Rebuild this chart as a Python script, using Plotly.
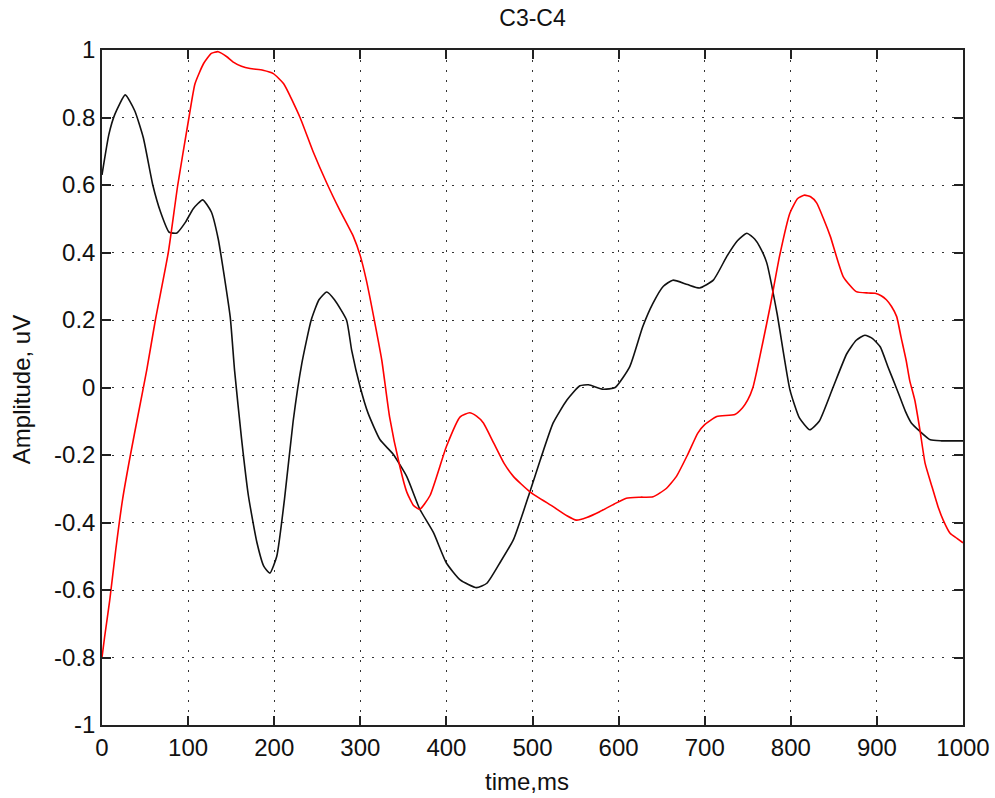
import plotly.graph_objects as go

# ---- data ----
t_black = [0, 8, 15, 27, 38, 48, 59, 68, 78, 87, 97, 106, 117, 127, 135, 142, 149, 154, 162, 170,
           180, 188, 195, 203, 212, 222, 232, 243, 252, 261, 270, 284, 290, 300, 309, 323, 338, 354,
           369, 385, 400, 416, 435, 447, 462, 478, 497, 509, 524, 540, 555, 565, 582, 596, 613, 628,
           640, 652, 663, 680, 694, 710, 726, 738, 749, 758, 764, 772, 784, 799, 810, 822, 833, 849,
           865, 876, 886, 895, 904, 913, 919, 925, 933, 940, 950, 962, 975, 1000]
v_black = [0.63, 0.75, 0.81, 0.867, 0.82, 0.74, 0.60, 0.52, 0.46, 0.458, 0.49, 0.53, 0.556, 0.52,
           0.44, 0.33, 0.207, 0.05, -0.15, -0.32, -0.46, -0.53, -0.55, -0.50, -0.33, -0.10, 0.07,
           0.20, 0.26, 0.283, 0.26, 0.20, 0.11, 0.0, -0.076, -0.155, -0.197, -0.264, -0.36, -0.43,
           -0.52, -0.57, -0.593, -0.58, -0.52, -0.45, -0.309, -0.215, -0.105, -0.037, 0.005, 0.008,
           -0.005, 0.0, 0.062, 0.18, 0.25, 0.30, 0.318, 0.305, 0.295, 0.318, 0.39, 0.435, 0.457,
           0.44, 0.417, 0.37, 0.22, -0.007, -0.09, -0.125, -0.10, 0.0, 0.10, 0.14, 0.155, 0.145,
           0.12, 0.06, 0.022, -0.017, -0.07, -0.105, -0.13, -0.155, -0.158, -0.158]

t_red = [0, 3, 9, 16, 24, 33, 42, 52, 62, 77, 88, 101, 108, 118, 127, 135, 145, 152, 162, 172,
         187, 199, 211, 230, 245, 261, 276, 292, 300, 307, 317, 325, 334, 346, 354, 362, 369, 381,
         400, 416, 427, 435, 443, 455, 467, 478, 497, 524, 540, 551, 563, 578, 595, 609, 625, 640,
         655, 667, 680, 692, 700, 714, 735, 744, 750, 756, 760, 768, 776, 787, 799, 808, 816, 823,
         830, 838, 846, 861, 876, 890, 898, 905, 911, 917, 923, 928, 934, 938, 944, 950, 956, 964,
         971, 977, 985, 993, 1000]
v_red = [-0.80, -0.74, -0.63, -0.48, -0.33, -0.20, -0.08, 0.052, 0.20, 0.40, 0.60, 0.80, 0.90,
         0.96, 0.99, 0.995, 0.98, 0.965, 0.952, 0.945, 0.94, 0.93, 0.90, 0.80, 0.70, 0.606, 0.526,
         0.447, 0.39, 0.318, 0.19, 0.08, -0.087, -0.235, -0.31, -0.35, -0.361, -0.32, -0.175,
         -0.087, -0.075, -0.085, -0.105, -0.165, -0.225, -0.264, -0.309, -0.353, -0.38, -0.393,
         -0.385, -0.368, -0.345, -0.328, -0.325, -0.324, -0.30, -0.264, -0.20, -0.135, -0.11,
         -0.086, -0.08, -0.06, -0.037, 0.0, 0.043, 0.14, 0.24, 0.39, 0.517, 0.56, 0.57, 0.565,
         0.547, 0.50, 0.447, 0.328, 0.284, 0.28, 0.279, 0.272, 0.26, 0.24, 0.21, 0.15, 0.08, 0.022,
         -0.037, -0.126, -0.225, -0.294, -0.353, -0.393, -0.432, -0.447, -0.46]

x_ticks = [0, 100, 200, 300, 400, 500, 600, 700, 800, 900, 1000]
x_labels = ["0", "100", "200", "300", "400", "500", "600", "700", "800", "900", "1000"]
y_ticks = [-1, -0.8, -0.6, -0.4, -0.2, 0, 0.2, 0.4, 0.6, 0.8, 1]
y_labels = ["-1", "-0.8", "-0.6", "-0.4", "-0.2", "0", "0.2", "0.4", "0.6", "0.8", "1"]

FONT = "Liberation Sans, Arial, sans-serif"
AX = "#222222"

fig = go.Figure()
fig.add_trace(go.Scatter(x=t_black, y=v_black, mode="lines",
                         line=dict(color="#111111", width=1.6, shape="spline", smoothing=0.5),
                         showlegend=False))
fig.add_trace(go.Scatter(x=t_red, y=v_red, mode="lines",
                         line=dict(color="#ff0000", width=1.6, shape="spline", smoothing=0.5),
                         showlegend=False))

axis_common = dict(showline=True, linecolor=AX, linewidth=1.5, mirror="ticks",
                   ticks="inside", ticklen=9, tickwidth=1.5, tickcolor=AX,
                   showgrid=True, gridcolor="#333333", gridwidth=1, griddash="2px,8px",
                   zeroline=False, automargin=False,
                   tickfont=dict(family=FONT, size=24, color="#111111"))

fig.update_xaxes(range=[0, 1000], tickvals=x_ticks, ticktext=x_labels, **axis_common)
fig.update_yaxes(range=[-1, 1], tickvals=y_ticks, ticktext=y_labels, **axis_common)

fig.update_layout(
    width=995, height=798,
    margin=dict(l=102, r=32, t=50, b=73),
    paper_bgcolor="white", plot_bgcolor="white",
    title=dict(text="C3-C4", x=0.5, xref="paper", y=1 - 18 / 798, yanchor="middle",
               font=dict(family=FONT, size=23, color="#111111")),
    annotations=[
        dict(text="time,ms", xref="paper", yref="paper", x=0.494, y=0, yanchor="middle",
             yshift=-56, showarrow=False, font=dict(family=FONT, size=24, color="#111111")),
        dict(text="Amplitude, uV", xref="paper", yref="paper", x=0, y=0.496, xanchor="center",
             yanchor="middle", xshift=-81, textangle=-90, showarrow=False,
             font=dict(family=FONT, size=24, color="#111111")),
    ],
)

fig.write_html("out.html")
